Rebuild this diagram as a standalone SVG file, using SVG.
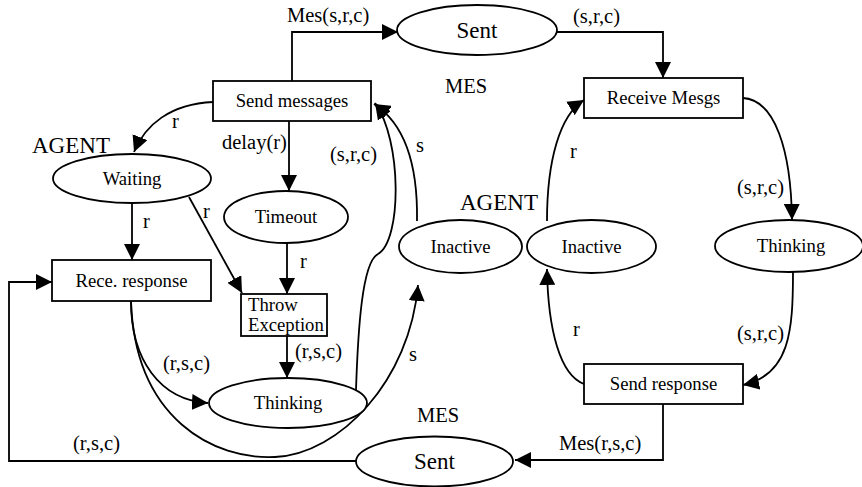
<svg xmlns="http://www.w3.org/2000/svg" width="862" height="487" viewBox="0 0 862 487" font-family="'Liberation Serif', 'Times New Roman', serif">
<defs>
<marker id="ah" markerUnits="userSpaceOnUse" markerWidth="16" markerHeight="16" refX="16" refY="8" orient="auto">
<path d="M0,0 L16,8 L0,16 z" fill="#000"/>
</marker>
<style>
.n{fill:#fff;stroke:#000;stroke-width:1.8}
.c{fill:none;stroke:#000;stroke-width:1.8;marker-end:url(#ah)}
text{font-family:'Liberation Serif','Times New Roman',serif;fill:#000}
.nodetext{font-size:18.7px;text-anchor:middle}
.nodeleft{font-size:18.7px}
.l{font-size:20.5px}
.b{font-size:23px}
.s{font-size:23px;text-anchor:middle}
</style>
</defs>
<rect width="862" height="487" fill="#fff"/>
<g id="connectors">
<path class="c" d="M292,81 L292,32 L398,32"/>
<path class="c" d="M557,32 L663,32 L663,78"/>
<path class="c" d="M213,102 C170,104 145,125 134,152"/>
<path class="c" d="M289,121 L289,191"/>
<path class="c" d="M132,203 L132,260"/>
<path class="c" d="M189,197 L242,293"/>
<path class="c" d="M287,243 L287,294"/>
<path class="c" d="M287,336 L287,378"/>
<path class="c" d="M131,301 C131,360 160,400 208,403"/>
<path class="c" d="M131,301 C135,420 215,460 275,457 C340,454 410,380 418,285"/>
<path class="c" d="M356,390 C358,330 362,262 378,254 C402,240 402,140 375,103"/>
<path class="c" d="M417,221 C418,160 402,122 374,104"/>
<path class="c" d="M547,221 C547,160 560,115 584,100"/>
<path class="c" d="M743,98 C775,100 791,150 792,220"/>
<path class="c" d="M793,272 C793,330 790,375 743,385"/>
<path class="c" d="M584,384 C560,375 548,330 547,269"/>
<path class="c" d="M663,404 L663,460 L515,460"/>
<path class="c" d="M356,461 L9,461 L9,282 L52,282"/>
</g>
<g id="labels">
<text class="l" x="287" y="22">Mes(s,r,c)</text>
<text class="l" x="573" y="23">(s,r,c)</text>
<text class="l" x="445" y="93">MES</text>
<text class="l" x="172" y="128">r</text>
<text class="b" x="32" y="153">AGENT</text>
<text class="l" x="222" y="149">delay(r)</text>
<text class="l" x="330" y="161">(s,r,c)</text>
<text class="l" x="416" y="152">s</text>
<text class="l" x="143" y="228">r</text>
<text class="l" x="203" y="218">r</text>
<text class="l" x="300" y="268">r</text>
<text class="l" x="295" y="358">(r,s,c)</text>
<text class="l" x="163" y="370">(r,s,c)</text>
<text class="l" x="409" y="361">s</text>
<text class="l" x="73" y="450">(r,s,c)</text>
<text class="l" x="417" y="422">MES</text>
<text class="l" x="559" y="450">Mes(r,s,c)</text>
<text class="l" x="573" y="336">r</text>
<text class="l" x="737" y="340">(s,r,c)</text>
<text class="l" x="737" y="194">(s,r,c)</text>
<text class="l" x="570" y="158">r</text>
<text class="b" x="460" y="210">AGENT</text>
</g>
<g id="sent-top"><ellipse class="n" cx="477" cy="30" rx="80" ry="25"/><text class="s" x="477" y="38">Sent</text></g>
<g id="send-messages"><rect class="n" x="213" y="81" width="158" height="40"/><text class="nodetext" x="292" y="107">Send messages</text></g>
<g id="receive-mesgs"><rect class="n" x="584" y="78" width="159" height="40"/><text class="nodetext" x="663.5" y="104">Receive Mesgs</text></g>
<g id="waiting"><ellipse class="n" cx="132" cy="178.5" rx="79" ry="24.5"/><text class="nodetext" x="132" y="185">Waiting</text></g>
<g id="timeout"><ellipse class="n" cx="286" cy="217" rx="62" ry="26"/><text class="nodetext" x="286" y="223">Timeout</text></g>
<g id="inactive-left"><ellipse class="n" cx="460.5" cy="246.5" rx="61.5" ry="26.5"/><text class="nodetext" x="460.5" y="253">Inactive</text></g>
<g id="inactive-right"><ellipse class="n" cx="591.5" cy="246.5" rx="64.5" ry="26.5"/><text class="nodetext" x="591.5" y="253">Inactive</text></g>
<g id="thinking-right"><ellipse class="n" cx="789" cy="246" rx="74" ry="26"/><text class="nodetext" x="791" y="252">Thinking</text></g>
<g id="rece-response"><rect class="n" x="52" y="260" width="159" height="41"/><text class="nodetext" x="131.5" y="287">Rece. response</text></g>
<g id="throw-exception"><rect class="n" x="241" y="294" width="86" height="42"/><text class="nodeleft" x="248" y="311">Throw</text><text class="nodeleft" x="248" y="331">Exception</text></g>
<g id="thinking-left"><ellipse class="n" cx="288" cy="403" rx="79" ry="25"/><text class="nodetext" x="288" y="409">Thinking</text></g>
<g id="send-response"><rect class="n" x="584" y="364" width="159" height="40"/><text class="nodetext" x="663.5" y="390">Send response</text></g>
<g id="sent-bottom"><ellipse class="n" cx="434.5" cy="461.5" rx="78.5" ry="25"/><text class="s" x="434.5" y="469">Sent</text></g>
</svg>
